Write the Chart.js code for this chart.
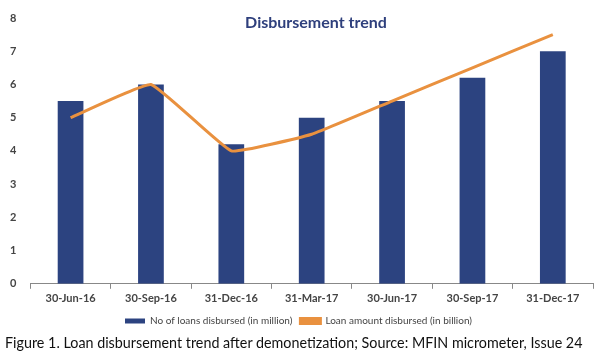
<!DOCTYPE html>
<html>
<head>
<meta charset="utf-8">
<script src="https://cdn.jsdelivr.net/npm/chart.js@4"></script>
<style>
  body { margin: 0; background: #fff; width: 600px; height: 364px; overflow: hidden; position: relative; }
  #wrap { position: absolute; left: 0; top: 0; width: 600px; height: 336px; }
  #title { position: absolute; top: 12px; left: 0; width: 632px; text-align: center;
           font: bold 16px Lato, sans-serif; color: #2e3f7c; }
  #caption { position: absolute; top: 332px; left: 5px; font: 16px Lato, sans-serif; color: #111;
             white-space: nowrap; transform: scaleX(0.895); transform-origin: left top; }
</style>
</head>
<body>
<div id="wrap"><canvas id="trend"></canvas></div>
<div id="title">Disbursement trend</div>
<div id="caption">Figure 1. Loan disbursement trend after demonetization; Source: MFIN micrometer, Issue 24</div>
<script>
const quarters = ["30-Jun-16", "30-Sep-16", "31-Dec-16", "31-Mar-17", "30-Jun-17", "30-Sep-17", "31-Dec-17"];
const loansCount = [5.5, 6.0, 4.2, 5.0, 5.5, 6.2, 7.0];   // in million
const loanAmount = [5.0, 6.0, 4.0, 4.5, 5.5, 6.5, 7.5];   // in billion
const yTicks = [0, 1, 2, 3, 4, 5, 6, 7, 8];

const navy = "#2c4380";
const orange = "#e9913f";

new Chart(document.getElementById("trend"), {
    type: "bar",
    data: {
        labels: quarters,
        datasets: [{
            type: "line",
            label: "Loan amount disbursed (in billion)",
            data: loanAmount,
            borderColor: orange,
            backgroundColor: orange,
            borderWidth: 3,
            tension: 0.1,
            pointRadius: 0,
            order: 0
        }, {
            label: "No of loans disbursed (in million)",
            data: loansCount,
            backgroundColor: navy,
            categoryPercentage: 1,
            barPercentage: 0.32,
            order: 1
        }]
    },
    options: {
        responsive: true,
        maintainAspectRatio: false,
        animation: false,
        layout: { padding: { top: 18, left: 4, right: 7, bottom: 0 } },
        plugins: {
            legend: {
                position: "bottom",
                reverse: true,
                labels: {
                    boxWidth: 20,
                    boxHeight: 5,
                    padding: 8,
                    color: "#444",
                    font: { family: "Lato", size: 10 }
                }
            },
            tooltip: { enabled: false }
        },
        scales: {
            x: {
                grid: { display: true, drawOnChartArea: false, offset: true, tickLength: 5, color: "#888" },
                border: { display: true, color: "#888", width: 1 },
                ticks: { color: "#444", font: { family: "Lato", size: 11, weight: "bold" }, padding: 3, maxRotation: 0 }
            },
            y: {
                min: 0,
                max: 8,
                afterBuildTicks: axis => { axis.ticks = yTicks.map(v => ({ value: v })); },
                grid: { display: false },
                border: { display: false },
                ticks: { color: "#444", font: { family: "Lato", size: 11, weight: "bold" }, padding: 6 }
            }
        }
    }
});
</script>
</body>
</html>
